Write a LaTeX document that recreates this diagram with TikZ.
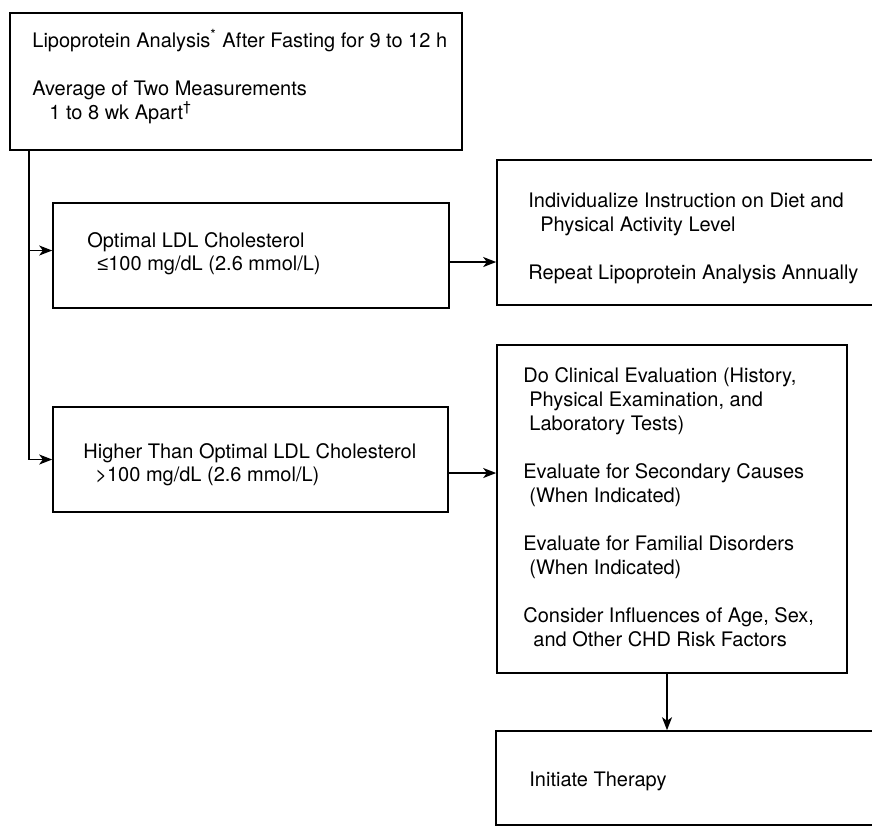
\documentclass[tikz,border=0pt]{standalone}
\usepackage{fontspec}
\setmainfont{TeX Gyre Heros}
\newfontfamily\symfont{Liberation Sans}
\usetikzlibrary{arrows.meta,fit}
\begin{document}
\begin{tikzpicture}[x=0.5pt,y=-0.5pt,
  box/.style={draw, line width=0.8pt, inner sep=0pt, rectangle},
  txt/.style={anchor=base west, inner sep=0pt, font=\fontsize{10pt}{12pt}\selectfont},
  arr/.style={line width=0.8pt, -{Stealth[length=6.5pt,width=5pt,inset=1.8pt]}}]
\useasboundingbox (0,0) rectangle (872,827);
% boxes
\node[box, fit={(10,13) (462,150)}] (top) {};
\node[box, fit={(53,203) (449,308)}] (opt) {};
\node[box, fit={(497,160) (895,305)}] (rtop) {};
\node[box, fit={(53,407) (448,512)}] (high) {};
\node[box, fit={(497,345) (847,673)}] (big) {};
\node[box, fit={(496,731) (895,825)}] (init) {};
% connectors
\coordinate (trunk) at (29,150);
\draw[arr] (top.south -| trunk) |- (high.west);
\coordinate (a1) at ([yshift=2.5pt]opt.west);
\draw[arr] (a1 -| trunk) -- (a1);
\coordinate (a2) at ([yshift=-3.25pt]opt.east);
\draw[arr] (a2) -- (a2 -| rtop.west);
\coordinate (a3) at ([yshift=-6.75pt]high.east);
\draw[arr] (a3) -- (a3 -| big.west);
\coordinate (a4) at ([xshift=-2.5pt]big.south);
\draw[arr] (a4) -- (a4 |- init.north);
% texts: top box
\node[txt] (t1) at (32,47) {Lipoprotein Analysis\textsuperscript{*} After Fasting for 9 to 12 h};
\node[txt] (t2) at (32,95) {Average of Two Measurements};
\node[txt] (t3) at (49,119) {1 to 8 wk Apart\textsuperscript{†}};
% optimal
\node[txt] (o1) at (87,247) {Optimal LDL Cholesterol};
\node[txt] (o2) at (97,270) {{\symfont ≤}100 mg/dL (2.6 mmol/L)};
% higher
\node[txt] (h1) at (83,458) {Higher Than Optimal LDL Cholesterol};
\node[txt] (h2) at (95,481) {>100 mg/dL (2.6 mmol/L)};
% right top
\node[txt] (r1) at (528,207) {Individualize Instruction on Diet and};
\node[txt] (r2) at (540,231) {Physical Activity Level};
\node[txt] (r3) at (528,279) {Repeat Lipoprotein Analysis Annually};
% big box
\node[txt] (b1) at (523,382) {Do Clinical Evaluation (History,};
\node[txt] (b2) at (529,406) {Physical Examination, and};
\node[txt] (b3) at (529,430) {Laboratory Tests)};
\node[txt] (b4) at (523,478) {Evaluate for Secondary Causes};
\node[txt] (b5) at (529,502) {(When Indicated)};
\node[txt] (b6) at (523,550) {Evaluate for Familial Disorders};
\node[txt] (b7) at (529,574) {(When Indicated)};
\node[txt] (b8) at (523,622) {Consider Influences of Age, Sex,};
\node[txt] (b9) at (533,646) {and Other CHD Risk Factors};
% initiate
\node[txt] (i1) at (529,786) {Initiate Therapy};
\end{tikzpicture}
\end{document}
